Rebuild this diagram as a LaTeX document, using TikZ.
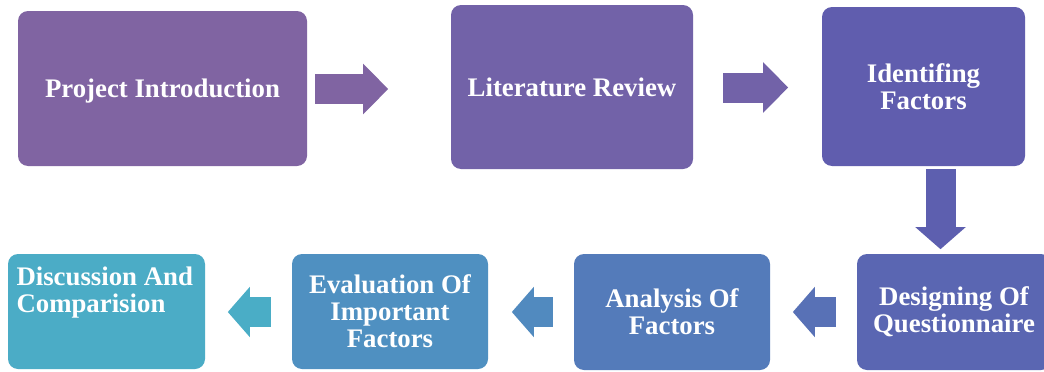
\documentclass[tikz,border=0pt]{standalone}
\usepackage{fontspec}
\setmainfont{Liberation Serif}
\usetikzlibrary{arrows.meta,calc}
\definecolor{c1}{HTML}{8064A2}
\definecolor{c2}{HTML}{7262A8}
\definecolor{c3}{HTML}{605DAE}
\definecolor{c4}{HTML}{5A66B2}
\definecolor{c5}{HTML}{547BBA}
\definecolor{c6}{HTML}{4F90C1}
\definecolor{c7}{HTML}{4BACC6}
\definecolor{a3}{HTML}{5D5FAF}
\definecolor{a4}{HTML}{5871B6}
\definecolor{a5}{HTML}{518ABF}
\definecolor{a6}{HTML}{4AADC6}
\begin{document}
\begin{tikzpicture}[x=1pt,y=-1pt,
  box/.style={rectangle, rounded corners=10pt, inner sep=0pt, text=white, align=center,
    font=\fontsize{26.8}{27}\selectfont\bfseries},
  bigarrow/.style={line width=30pt, line cap=butt, -{Triangle[length=25pt,width=49pt]}},
  smallarrow/.style={line width=30pt, line cap=butt, -{Triangle[length=22pt,width=49pt]}}]
\useasboundingbox[fill=white] (0,0) rectangle (1044,372);
% boxes
\node[box, fill=c1, minimum width=289pt, minimum height=155pt] (b1) at (162.5,88.5) {\raisebox{-3pt}[\height][\depth]{Project Introduction}};
\node[box, fill=c2, minimum width=242pt, minimum height=164pt] (b2) at (572,87) {Literature Review};
\node[box, fill=c3, minimum width=203pt, minimum height=159pt] (b3) at (923.5,86.5) {Identifing\\Factors};
\node[box, fill=c4, minimum width=194pt, minimum height=116pt] (b4) at (954,312) {Designing Of\\Questionnaire};
\node[box, fill=c5, minimum width=196pt, minimum height=116pt] (b5) at (672,312) {Analysis Of\\Factors};
\node[box, fill=c6, minimum width=196pt, minimum height=115pt] (b6) at (390,311.5) {Evaluation Of\\Important\\Factors};
\node[box, fill=c7, minimum width=197pt, minimum height=115pt, align=left] (b7) at (106.5,311.5)
  {\parbox[c][115pt][t]{180pt}{\raggedright\vspace*{13pt}Discussion And\\Comparision}};
% connectors
\draw[bigarrow, c1] ($(b1.east)+(8,0.5)$) -- ++(73,0);
\draw[bigarrow, c2] ($(b2.east)+(30,0.5)$) -- ++(65,0);
\draw[smallarrow, a3] ($(b3.south)+(17,3)$) -- ++(0,80);
\draw[smallarrow, a4] ($(b4.west)+(-21,0)$) -- ++(-43,0);
\draw[smallarrow, a5] ($(b5.west)+(-21,0)$) -- ++(-41,0);
\draw[smallarrow, a6] ($(b6.west)+(-21,0.5)$) -- ++(-43,0);
\end{tikzpicture}
\end{document}
